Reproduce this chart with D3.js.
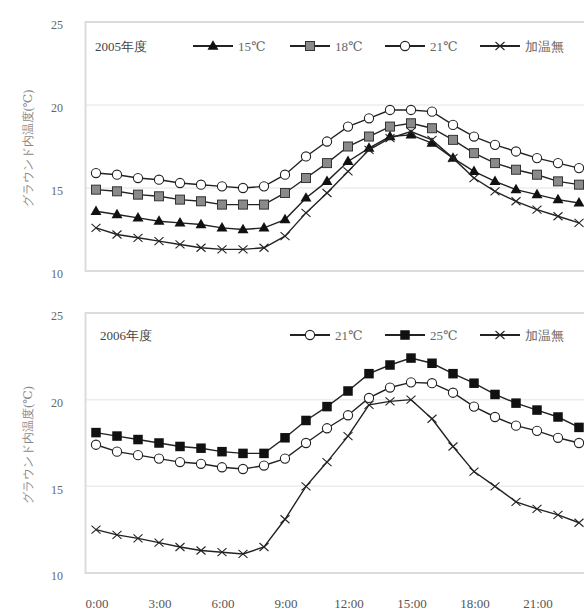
<!DOCTYPE html>
<html>
<head>
<meta charset="utf-8">
<title>グラウンド内温度</title>
<style>
  body { margin: 0; background: #fff; }
  text { font-family: 'Liberation Serif', 'DejaVu Serif', serif; }
</style>
<script src="https://d3js.org/d3.v7.min.js"></script>
</head>
<body>
<div id="container"></div>
<script>
// ******* Data *******
const hours = d3.range(0, 24);
const tickHours = [0, 3, 6, 9, 12, 15, 18, 21];
const tickLabels = ["0:00", "3:00", "6:00", "9:00", "12:00", "15:00", "18:00", "21:00"];
const yTicks = [10, 15, 20, 25];

// 2005年度
const y2005_15 = [13.6, 13.4, 13.2, 13.0, 12.9, 12.8, 12.6, 12.5, 12.6, 13.1, 14.4, 15.4, 16.6, 17.4, 18.1, 18.2, 17.7, 16.8, 16.0, 15.4, 14.9, 14.6, 14.3, 14.1];
const y2005_18 = [14.9, 14.8, 14.6, 14.5, 14.3, 14.2, 14.0, 14.0, 14.0, 14.7, 15.6, 16.5, 17.5, 18.1, 18.7, 18.9, 18.6, 17.9, 17.1, 16.5, 16.1, 15.8, 15.4, 15.2];
const y2005_21 = [15.9, 15.8, 15.6, 15.5, 15.3, 15.2, 15.1, 15.0, 15.1, 15.8, 16.9, 17.8, 18.7, 19.2, 19.7, 19.7, 19.6, 18.8, 18.1, 17.6, 17.2, 16.8, 16.5, 16.2];
const y2005_none = [12.6, 12.2, 12.0, 11.8, 11.6, 11.4, 11.3, 11.3, 11.4, 12.1, 13.5, 14.7, 16.0, 17.3, 18.0, 18.4, 17.9, 16.8, 15.6, 14.8, 14.2, 13.7, 13.3, 12.9];

// 2006年度
const y2006_21 = [17.4, 17.0, 16.8, 16.6, 16.4, 16.3, 16.1, 16.0, 16.2, 16.6, 17.5, 18.35, 19.1, 20.1, 20.7, 21.0, 20.95, 20.4, 19.6, 19.0, 18.5, 18.2, 17.8, 17.5];
const y2006_25 = [18.1, 17.9, 17.7, 17.5, 17.3, 17.2, 17.0, 16.9, 16.9, 17.8, 18.8, 19.6, 20.5, 21.5, 22.0, 22.4, 22.1, 21.5, 20.95, 20.3, 19.8, 19.4, 19.0, 18.4];
const y2006_none = [12.5, 12.2, 12.0, 11.75, 11.5, 11.3, 11.2, 11.1, 11.5, 13.1, 15.0, 16.4, 17.9, 19.7, 19.9, 20.0, 18.9, 17.3, 15.85, 15.0, 14.1, 13.7, 13.35, 12.9];

// ******* Layout *******
const width = 584,
      height = 612;

const svg = d3.select("#container").append("svg")
    .attr("width", width)
    .attr("height", height)
    .style("display", "block");

// shared x scale (hour categories)
const x = d3.scaleLinear()
    .domain([-0.5, 23.5])
    .range([85.5, 589.5]);

// marker drawing helpers
function drawMarker(g, type, cx, cy) {
  if (type === "triangle") {
    g.append("path")
      .attr("d", d3.symbol().type(d3.symbolTriangle).size(52)())
      .attr("transform", `translate(${cx},${cy + 0.5})`)
      .attr("fill", "#111");
  } else if (type === "squareGray") {
    g.append("rect")
      .attr("x", cx - 4.5).attr("y", cy - 4.5)
      .attr("width", 9).attr("height", 9)
      .attr("fill", "#8a8a8a").attr("stroke", "#333").attr("stroke-width", 1);
  } else if (type === "squareBlack") {
    g.append("rect")
      .attr("x", cx - 4.75).attr("y", cy - 4.75)
      .attr("width", 9.5).attr("height", 9.5)
      .attr("fill", "#111");
  } else if (type === "circle") {
    g.append("circle")
      .attr("cx", cx).attr("cy", cy).attr("r", 4.6)
      .attr("fill", "#fff").attr("stroke", "#222").attr("stroke-width", 1.1);
  } else if (type === "x") {
    g.append("path")
      .attr("d", `M${cx - 4.5},${cy - 4} L${cx + 4.5},${cy + 4} M${cx - 4.5},${cy + 4} L${cx + 4.5},${cy - 4}`)
      .attr("stroke", "#222").attr("stroke-width", 1.1).attr("fill", "none");
  }
}

function drawPanel(opts) {
  const y = d3.scaleLinear()
      .domain([10, 25])
      .range([opts.bottom, opts.top]);

  const g = svg.append("g");

  // gridlines
  g.selectAll("line.grid")
    .data([15, 20])
    .enter().append("line")
    .attr("class", "grid")
    .attr("x1", x.range()[0]).attr("x2", x.range()[1])
    .attr("y1", d => y(d)).attr("y2", d => y(d))
    .attr("stroke", "#ececec").attr("stroke-width", 1.5);

  // plot frame
  g.append("rect")
    .attr("x", x.range()[0]).attr("y", y(25))
    .attr("width", x.range()[1] - x.range()[0])
    .attr("height", y(10) - y(25))
    .attr("fill", "none").attr("stroke", "#dcdcdc").attr("stroke-width", 2);

  // y tick labels
  g.selectAll("text.ytick")
    .data(yTicks)
    .enter().append("text")
    .attr("class", "ytick")
    .attr("x", 63)
    .attr("y", d => y(d) + 3)
    .attr("dy", "0.35em")
    .attr("text-anchor", "end")
    .attr("font-size", 12)
    .attr("fill", "#666")
    .text(d => d);

  // y axis title
  const midY = (y(10) + y(25)) / 2;
  g.append("text")
    .attr("transform", `translate(28,${midY + 2}) rotate(-90)`)
    .attr("text-anchor", "middle")
    .attr("dominant-baseline", "central")
    .attr("font-family", "'Noto Sans CJK JP', sans-serif")
    .attr("font-size", 12)
    .attr("fill", "#888")
    .text("グラウンド内温度(℃)");

  // series lines + markers
  opts.series.forEach(s => {
    const line = d3.line()
        .x((d, i) => x(hours[i]))
        .y(d => y(d));
    g.append("path")
      .datum(s.values)
      .attr("d", line)
      .attr("fill", "none")
      .attr("stroke", "#222")
      .attr("stroke-width", 1.4);
    const mg = g.append("g");
    s.values.forEach((v, i) => drawMarker(mg, s.marker, x(hours[i]), y(v)));
  });

  // year label
  g.append("text")
    .attr("x", opts.titleX)
    .attr("y", opts.legendY)
    .attr("dominant-baseline", "central")
    .attr("font-size", 13)
    .attr("fill", "#444")
    .text(opts.title);

  // legend
  opts.series.forEach(s => {
    const lg = g.append("g");
    lg.append("line")
      .attr("x1", s.legendX - 20).attr("x2", s.legendX + 20)
      .attr("y1", opts.legendY).attr("y2", opts.legendY)
      .attr("stroke", "#222").attr("stroke-width", 1.8);
    drawMarker(lg, s.marker, s.legendX, opts.legendY);
    lg.append("text")
      .attr("x", s.legendX + 25)
      .attr("y", opts.legendY)
      .attr("dominant-baseline", "central")
      .attr("font-size", 13)
      .attr("fill", "#666")
      .text(s.label);
  });

  return y;
}

// ******* Panels *******
drawPanel({
  top: 22, bottom: 271,
  title: "2005年度", titleX: 95, legendY: 46,
  series: [
    {label: "15℃", values: y2005_15, marker: "triangle", legendX: 213},
    {label: "18℃", values: y2005_18, marker: "squareGray", legendX: 310},
    {label: "21℃", values: y2005_21, marker: "circle", legendX: 405},
    {label: "加温無", values: y2005_none, marker: "x", legendX: 500}
  ]
});

drawPanel({
  top: 313, bottom: 573,
  title: "2006年度", titleX: 100, legendY: 335,
  series: [
    {label: "21℃", values: y2006_21, marker: "circle", legendX: 310},
    {label: "25℃", values: y2006_25, marker: "squareBlack", legendX: 405},
    {label: "加温無", values: y2006_none, marker: "x", legendX: 500}
  ]
});

// x tick labels (bottom panel only)
svg.selectAll("text.xtick")
  .data(tickHours)
  .enter().append("text")
  .attr("class", "xtick")
  .attr("x", d => x(d) + 1)
  .attr("y", 603)
  .attr("dominant-baseline", "central")
  .attr("text-anchor", "middle")
  .attr("font-size", 13)
  .attr("fill", "#555")
  .text((d, i) => tickLabels[i]);
</script>
</body>
</html>
